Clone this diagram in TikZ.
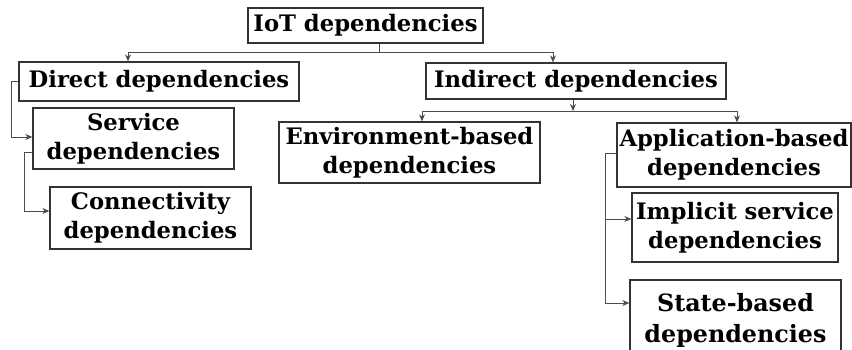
\documentclass[tikz,border=0pt]{standalone}
\usepackage{fontspec}
\setmainfont{DejaVu Serif}
\usetikzlibrary{arrows.meta,calc}
\begin{document}
\begin{tikzpicture}[x=1pt,y=-1pt,
  box/.style={draw=black!80,line width=1.3pt,inner sep=0pt,align=center,
    font=\fontsize{22.7}{29}\selectfont\bfseries,text=black},
  link/.style={draw=black!70,line width=0.9pt},
  arr/.style={link,-{Stealth[length=7pt,width=6pt]}}]
\clip (0,0) rectangle (852,349);
\fill[white] (0,0) rectangle (852,349);
\node[box,minimum width=235pt,minimum height=35pt] (iot) at (365.5,25.5) {IoT dependencies};
\node[box,minimum width=280pt,minimum height=39pt] (direct) at (159,81.5) {Direct dependencies};
\node[box,minimum width=300pt,minimum height=36pt] (indirect) at (576,81) {Indirect dependencies};
\node[box,minimum width=201pt,minimum height=61pt] (service) at (133.5,138.5) {Service\\dependencies};
\node[box,minimum width=201pt,minimum height=62pt] (conn) at (150.5,218) {Connectivity\\dependencies};
\node[box,minimum width=261pt,minimum height=61pt] (env) at (409.5,152.5) {Environment-based\\dependencies};
\node[box,minimum width=234pt,minimum height=64pt] (app) at (734,155) {Application-based\\dependencies};
\node[box,minimum width=206pt,minimum height=69pt] (impl) at (735,227.5) {Implicit service\\dependencies};
\node[box,minimum width=211pt,minimum height=80pt,font=\fontsize{23.8}{31}\selectfont\bfseries] (state) at (735.5,320) {State-based\\dependencies};
% IoT -> direct / indirect
\coordinate (j1) at (379,52.5);
\draw[link] ([xshift=13.5pt]iot.south) -- (j1);
\draw[arr] (j1) -| ([xshift=-31pt]direct.north);
\draw[arr] (j1) -| ([xshift=-23pt]indirect.north);
% indirect -> env / app
\coordinate (j2) at (573,111);
\draw[arr] ([xshift=-3pt]indirect.south) -- (j2);
\draw[arr] (j2) -| ([xshift=12.5pt]env.north);
\draw[arr] (j2) -| ([xshift=3pt]app.north);
% direct -> service
\draw[arr] (direct.west) -- ++(-7,0) |- ([yshift=1.5pt]service.west);
% service -> connectivity
\draw[arr] ([yshift=-13.5pt]service.west) -- ++(-8,0) |- ([yshift=7pt]conn.west);
% app -> implicit / state
\coordinate (j3) at (605,153);
\draw[link] ([yshift=2pt]app.west) -- (j3);
\draw[arr] (j3) |- ([yshift=8.5pt]impl.west);
\draw[arr] (j3) |- ([yshift=17pt]state.west);
\end{tikzpicture}
\end{document}
